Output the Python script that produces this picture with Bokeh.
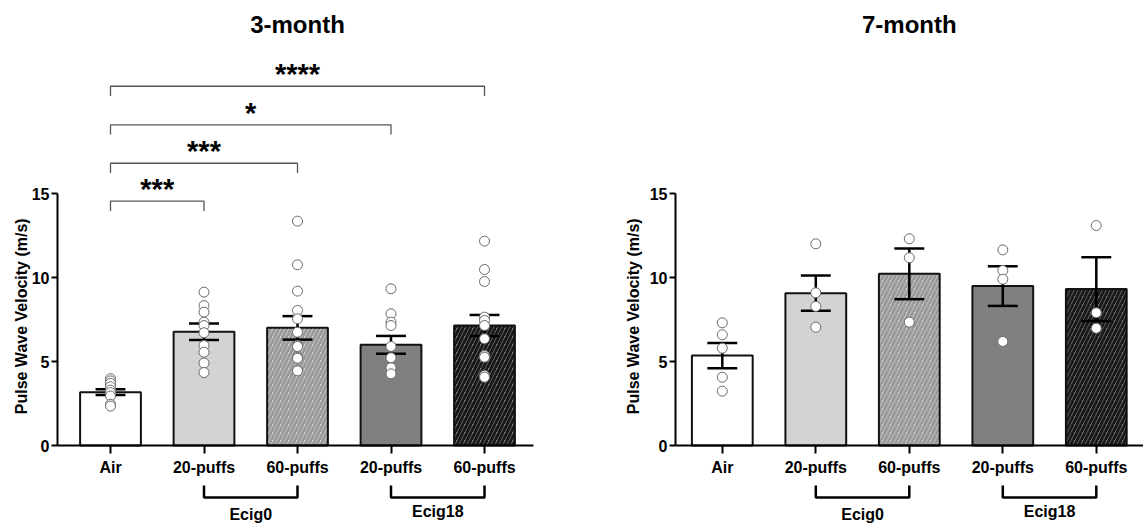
import math
from bokeh.plotting import figure
from bokeh.layouts import row
from bokeh.models import Range1d, FixedTicker, ColumnDataSource
from bokeh.core.properties import value
from bokeh.embed import file_html
from bokeh.resources import INLINE

# ---------------- data ----------------
categories = ["Air", "20-puffs", "60-puffs", "20-puffs", "60-puffs"]
group_names = ["Ecig0", "Ecig18"]
group_start = [1, 3]
group_end = [2, 4]
y_label = "Pulse Wave Velocity (m/s)"

m3_mean = [3.18, 6.78, 7.01, 6.00, 7.15]
m3_sem = [0.17, 0.49, 0.70, 0.53, 0.63]
m3_air = [3.98, 3.85, 3.70, 3.50, 3.30, 3.15, 2.95, 2.45, 2.35]
m3_e0_20 = [9.14, 8.34, 7.95, 7.35, 7.15, 6.72, 5.96, 5.56, 4.91, 4.35]
m3_e0_60 = [13.37, 10.77, 9.20, 8.05, 7.55, 6.75, 5.96, 5.90, 5.26, 5.20, 4.47, 4.45]
m3_e18_20 = [9.34, 7.85, 7.35, 7.15, 5.90, 5.23, 4.63, 4.27]
m3_e18_60 = [12.18, 10.49, 9.77, 7.65, 7.45, 7.15, 6.36, 5.36, 5.26, 4.17, 4.07]

m7_mean = [5.36, 9.08, 10.23, 9.50, 9.32]
m7_sem = [0.75, 1.05, 1.51, 1.18, 1.90]
m7_air = [7.31, 6.60, 5.80, 4.07, 3.24]
m7_e0_20 = [12.02, 9.10, 8.29, 7.05]
m7_e0_60 = [12.32, 11.19, 7.35]
m7_e18_20 = [11.66, 10.43, 9.91, 6.20]
m7_e18_60 = [13.11, 7.91, 6.99]

# significance comparisons (3-month)
sig_from = [0, 0, 0, 0]
sig_to = [1, 2, 3, 4]
sig_label = ["***", "***", "*", "****"]
sig_height = [14.56, 16.82, 19.11, 21.41]

y_ticks = [0, 5, 10, 15]

# ---------------- style ----------------
FONT = "Liberation Sans"
bar_fill = ["#ffffff", "#d3d3d3", "#d6d6d6", "#808080", "#7d7d7d"]
bar_hatch = [" ", " ", "/", " ", "/"]
bar_hatch_color = ["#000000", "#000000", "#999999", "#000000", "#1a1a1a"]

PX_PER_CAT = 93.5
PX_PER_UNIT = 16.78
H = 529
Y0_PX = 445  # canvas y of value 0


def make_panel(title, means, sems, pts_lists, width, axis_px, air_px, axis_end, brackets):
    x_start = -air_px / PX_PER_CAT
    x_end = x_start + width / PX_PER_CAT
    axis_x = -(air_px - axis_px) / PX_PER_CAT
    y_end = Y0_PX / PX_PER_UNIT
    y_start = -(H - Y0_PX) / PX_PER_UNIT
    p = figure(width=width, height=H, output_backend="svg", toolbar_location=None,
               x_range=Range1d(x_start, x_end), y_range=Range1d(y_start, y_end),
               min_border_left=0, min_border_right=0, min_border_top=0,
               min_border_bottom=0, outline_line_color=None, background_fill_color="white")
    p.grid.visible = False

    xs = list(range(len(categories)))
    # bars
    src = ColumnDataSource(dict(x=xs, top=means, fill=bar_fill, hatch=bar_hatch, hcol=bar_hatch_color))
    p.vbar(x="x", top="top", bottom=0, width=0.65, source=src, fill_color="fill",
           line_color="#111111", line_width=2, hatch_pattern="hatch", hatch_color="hcol",
           hatch_scale=8, hatch_weight=3)
    # error bars
    lo = [m - s for m, s in zip(means, sems)]
    hi = [m + s for m, s in zip(means, sems)]
    p.segment(x0=xs, y0=lo, x1=xs, y1=hi, line_color="black", line_width=2.5)
    cap = 0.16
    p.segment(x0=[x - cap for x in xs], y0=hi, x1=[x + cap for x in xs], y1=hi, line_color="black", line_width=2.5)
    p.segment(x0=[x - cap for x in xs], y0=lo, x1=[x + cap for x in xs], y1=lo, line_color="black", line_width=2.5)
    # points
    px, py = [], []
    for i, pts in enumerate(pts_lists):
        px += [i] * len(pts)
        py += pts
    p.scatter(px, py, size=10, marker="circle", fill_color="white", line_color="#6a6a6a", line_width=1)

    # axes
    ya = p.yaxis[0]
    ya.fixed_location = axis_x
    ya.ticker = FixedTicker(ticks=y_ticks)
    ya.bounds = (0, 15)
    ya.major_label_text_font = FONT
    ya.major_label_text_font_style = "bold"
    ya.major_label_text_font_size = "16px"
    ya.major_label_text_color = "black"
    ya.major_label_standoff = 2
    ya.major_tick_out = 6
    ya.major_tick_in = 0
    ya.minor_tick_out = 0
    ya.minor_tick_in = 0
    ya.axis_line_width = 2
    ya.major_tick_line_width = 2
    ya.axis_line_color = "black"
    ya.major_tick_line_color = "black"

    xa = p.xaxis[0]
    xa.fixed_location = 0
    xa.ticker = FixedTicker(ticks=xs)
    xa.major_label_overrides = {i: c for i, c in enumerate(categories)}
    xa.bounds = (axis_x, axis_end)
    xa.major_label_text_font = FONT
    xa.major_label_text_font_style = "bold"
    xa.major_label_text_font_size = "16px"
    xa.major_label_text_color = "black"
    xa.major_label_standoff = 5
    xa.major_tick_out = 8
    xa.major_tick_in = 0
    xa.minor_tick_out = 0
    xa.minor_tick_in = 0
    xa.axis_line_width = 2
    xa.major_tick_line_width = 2
    xa.axis_line_color = "black"
    xa.major_tick_line_color = "black"

    # y axis title (centred on the 0-15 span)
    p.text(x=[-0.95], y=[7.7], text=[y_label], angle=math.pi / 2, text_font=value(FONT),
           text_font_style="bold", text_font_size="16px", text_align="center",
           text_baseline="middle", text_color="black")

    # group brackets below axis
    g_top, g_bot = -2.38, -3.10
    p.multi_line(xs=[[a, a, b, b] for a, b in zip(group_start, group_end)],
                 ys=[[g_top, g_bot, g_bot, g_top] for _ in group_start],
                 line_color="black", line_width=2.5)
    p.text(x=[(a + b) / 2 for a, b in zip(group_start, group_end)], y=[-4.10, -3.95],
           text=group_names, text_font=value(FONT), text_font_style="bold",
           text_font_size="16px", text_align="center", text_baseline="middle", text_color="black")

    # significance brackets
    if brackets:
        f, t, lab, hgt = brackets
        d = 0.58
        p.multi_line(xs=[[a, a, b, b] for a, b in zip(f, t)],
                     ys=[[h - d, h, h, h - d] for h in hgt],
                     line_color="#555555", line_width=1.3)
        p.text(x=[(a + b) / 2 for a, b in zip(f, t)], y=[h + 0.72 for h in hgt], text=lab,
               text_font=value(FONT), text_font_style="bold", text_font_size="29px",
               text_align="center", text_baseline="alphabetic", text_color="black")

    # title
    p.text(x=[2.0], y=[25.1], text=[title], text_font=value(FONT), text_font_style="bold",
           text_font_size="24px", text_align="center", text_baseline="middle", text_color="black")
    return p


p1 = make_panel("3-month", m3_mean, m3_sem, [m3_air, m3_e0_20, m3_e0_60, m3_e18_20, m3_e18_60],
                width=618, axis_px=57, air_px=110, axis_end=4.52,
                brackets=(sig_from, sig_to, sig_label, sig_height))
p2 = make_panel("7-month", m7_mean, m7_sem, [m7_air, m7_e0_20, m7_e0_60, m7_e18_20, m7_e18_60],
                width=525, axis_px=57, air_px=103.8, axis_end=4.5, brackets=None)

layout = row(p1, p2)
open("out.html", "w").write(file_html(layout, INLINE))
